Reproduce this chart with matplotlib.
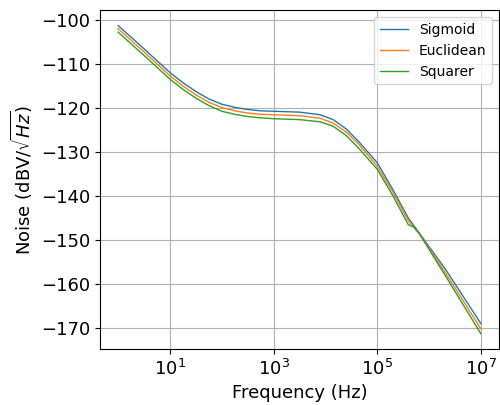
import matplotlib
matplotlib.use('Agg')
import matplotlib.pyplot as plt
from matplotlib.ticker import NullLocator

# frequencies (Hz) and noise curves (dBV/sqrt(Hz))
freq = [1, 3.16, 10, 17.8, 31.6, 56.2, 100, 178, 316, 562, 1e3, 3.16e3,
        7.94e3, 1.41e4, 2.51e4, 4.47e4, 1e5, 2e5, 3.98e5, 5.01e5, 6.46e5,
        2.09e6, 1e7]
sigmoid = [-101.3, -106.6, -112.0, -114.3, -116.3, -118.0, -119.2, -119.9,
           -120.4, -120.7, -120.8, -121.0, -121.6, -122.7, -124.8, -127.8,
           -132.5, -138.6, -145.1, -146.7, -148.5, -156.8, -169.1]
euclidean = [-102.0, -107.3, -112.75, -115.05, -117.05, -118.75, -119.95,
             -120.7, -121.2, -121.5, -121.6, -121.8, -122.4, -123.5, -125.5,
             -128.4, -133.3, -139.2, -145.7, -147.1, -148.6, -157.6, -170.3]
squarer = [-102.8, -108.1, -113.5, -115.8, -117.8, -119.5, -120.8, -121.5,
           -122.0, -122.3, -122.5, -122.7, -123.2, -124.2, -126.3, -129.3,
           -134.0, -140.0, -146.6, -147.1, -148.6, -158.3, -171.4]
labels = ['Sigmoid', 'Euclidean', 'Squarer']

fig, ax = plt.subplots(figsize=(5, 4.05), dpi=100)
fig.subplots_adjust(left=0.2, right=0.998, top=0.975, bottom=0.138)

for ys, lab in zip([sigmoid, euclidean, squarer], labels):
    ax.plot(freq, ys, label=lab, linewidth=1)

ax.set_xscale('log')
ax.xaxis.set_minor_locator(NullLocator())
ax.set_yticks(range(-170, -99, 10))
ax.grid(True)
ax.tick_params(labelsize=13)
ax.set_xlabel('Frequency (Hz)', fontsize=13)
ax.set_ylabel(r'Noise (dBV/$\sqrt{Hz}$)', fontsize=13)
ax.legend(loc='upper right', fontsize=10)

fig.savefig('out.png')
